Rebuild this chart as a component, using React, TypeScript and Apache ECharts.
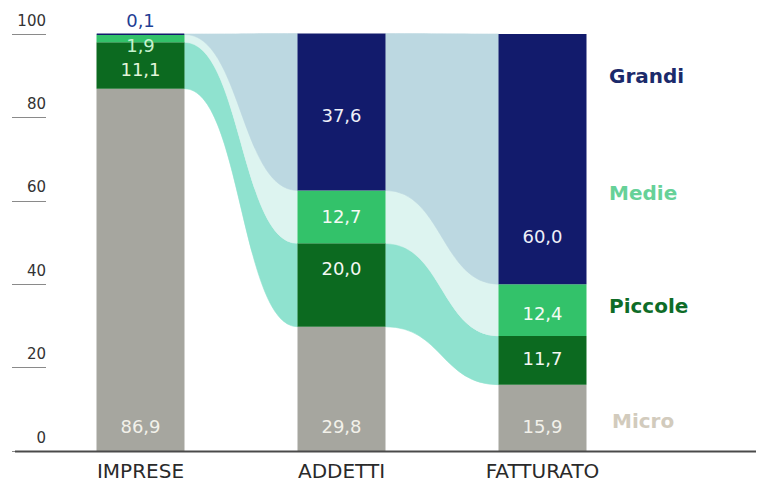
import React, { useEffect, useRef } from "react";
import * as echarts from "echarts";

const categories = ["IMPRESE", "ADDETTI", "FATTURATO"];
const segmentNames = ["Micro", "Piccole", "Medie", "Grandi"];
const micro = [86.9, 29.8, 15.9];
const piccole = [11.1, 20.0, 11.7];
const medie = [1.9, 12.7, 12.4];
const grandi = [0.1, 37.6, 60.0];
const yTicks = [0, 20, 40, 60, 80, 100];

const FONT = "'DejaVu Sans', sans-serif";
const BAR_W = 88;
const barColors = ["#a6a69f", "#0c6a20", "#33c26a", "#121b6c"];
const flowColors = ["rgba(0,0,0,0)", "#8fe2cf", "#ddf4f0", "#bcd8e1"];
const legendColors = ["#d2cbbd", "#0e6c27", "#66d198", "#1b2a6b"];
const legendY = [421, 306, 193, 76];

// label placement styles per segment / category
const labelStyles: any[][] = [
  [
    { position: "insideBottom", distance: 16, color: "#f2f1ea" },
    { position: "insideBottom", distance: 16, color: "#f2f1ea" },
    { position: "insideBottom", distance: 16, color: "#f2f1ea" },
  ],
  [
    { position: "inside", offset: [0, 4], color: "#e3f6da" },
    { position: "inside", offset: [0, -17], color: "#f4f8f2" },
    { position: "inside", offset: [0, -2], color: "#f4f8f2" },
  ],
  [
    { position: "inside", offset: [0, 7], color: "#c6f2cf" },
    { position: "inside", offset: [0, 0], color: "#f4faf4" },
    { position: "inside", offset: [0, 3], color: "#f4faf4" },
  ],
  [
    { position: "top", distance: 4, color: "#1f3f94" },
    { position: "inside", offset: [0, 4], color: "#eef0f8" },
    { position: "inside", offset: [0, 77], color: "#eef0f8" },
  ],
];

const fmt = (v: number) => v.toFixed(1).replace(".", ",");

export default function App() {
  const ref = useRef<HTMLDivElement>(null);
  useEffect(() => {
    if (!ref.current) return;
    const chart = echarts.init(ref.current, null, { renderer: "svg" });
    const segs = [micro, piccole, medie, grandi];

    // cumulative bounds
    const bounds = categories.map((_, i) => {
      let acc = 0;
      return segs.map((s) => {
        const b = acc;
        acc += s[i];
        return [b, acc];
      });
    });
    const flowData: number[][] = [];
    for (let i = 0; i < categories.length - 1; i++) {
      for (let s = 1; s < segs.length; s++) {
        flowData.push([
          i,
          bounds[i][s][0],
          bounds[i][s][1],
          bounds[i + 1][s][0],
          bounds[i + 1][s][1],
          s,
        ]);
      }
    }

    const barSeries = segs.map((vals, s) => ({
      name: segmentNames[s],
      type: "bar",
      stack: "tot",
      barWidth: BAR_W,
      z: 3,
      itemStyle:
        s === 3
          ? { color: barColors[s], borderColor: barColors[s], borderWidth: 1.5 }
          : { color: barColors[s] },
      data: vals.map((v, i) => ({
        value: v,
        label: {
          show: true,
          formatter: fmt(v),
          fontSize: 18,
          fontFamily: FONT,
          ...labelStyles[s][i],
        },
      })),
    }));

    const option: any = {
      animation: false,
      backgroundColor: "#ffffff",
      grid: { left: 40, right: 116, top: 34, bottom: 45 },
      xAxis: {
        type: "category",
        data: categories,
        axisLine: { show: false },
        axisTick: { show: false },
        axisLabel: { fontSize: 20, color: "#2a2a2a", margin: 10, fontFamily: FONT },
      },
      yAxis: {
        type: "value",
        min: yTicks[0],
        max: yTicks[yTicks.length - 1],
        interval: 20,
        offset: -6,
        axisLine: { show: false },
        axisTick: { show: true, length: 34, lineStyle: { color: "#8a8a8a", width: 1 } },
        splitLine: { show: false },
        axisLabel: {
          margin: 0,
          align: "right",
          verticalAlign: "bottom",
          padding: [0, 0, 6, 0],
          fontSize: 15,
          color: "#333333",
          fontFamily: FONT,
        },
      },
      series: [
        {
          type: "custom",
          z: 1,
          silent: true,
          data: flowData,
          encode: { x: 0, y: [1, 2, 3, 4] },
          renderItem: (params: any, api: any) => {
            const i = api.value(0);
            const s = api.value(5);
            const a0 = api.coord([i, api.value(1)]);
            const a1 = api.coord([i, api.value(2)]);
            const b0 = api.coord([i + 1, api.value(3)]);
            const b1 = api.coord([i + 1, api.value(4)]);
            const x0 = a0[0] + BAR_W / 2;
            const x1 = b0[0] - BAR_W / 2;
            const xm = (x0 + x1) / 2;
            const d =
              `M${x0},${a1[1]} C${xm},${a1[1]} ${xm},${b1[1]} ${x1},${b1[1]} ` +
              `L${x1},${b0[1]} C${xm},${b0[1]} ${xm},${a0[1]} ${x0},${a0[1]} Z`;
            return {
              type: "path",
              shape: { pathData: d },
              style: { fill: flowColors[s], stroke: flowColors[s], lineWidth: 0.6 },
            };
          },
        },
        ...barSeries,
      ],
      graphic: [
        {
          type: "line",
          z: 100,
          shape: { x1: 15, y1: 451.5, x2: 756, y2: 451.5 },
          style: { stroke: "#4a4a4a", lineWidth: 2 },
        },
        ...segmentNames.map((n, s) => ({
          type: "text",
          x: s === 0 ? 612 : 609,
          y: legendY[s],
          z: 100,
          style: {
            text: n,
            fill: legendColors[s],
            fontSize: 20,
            fontWeight: "bold",
            fontFamily: FONT,
            verticalAlign: "middle",
          },
        })),
      ],
    };
    chart.setOption(option);
    return () => chart.dispose();
  }, []);
  return (
    <div
      ref={ref}
      style={{ position: "fixed", left: 0, top: 0, width: 759, height: 496 }}
    />
  );
}
